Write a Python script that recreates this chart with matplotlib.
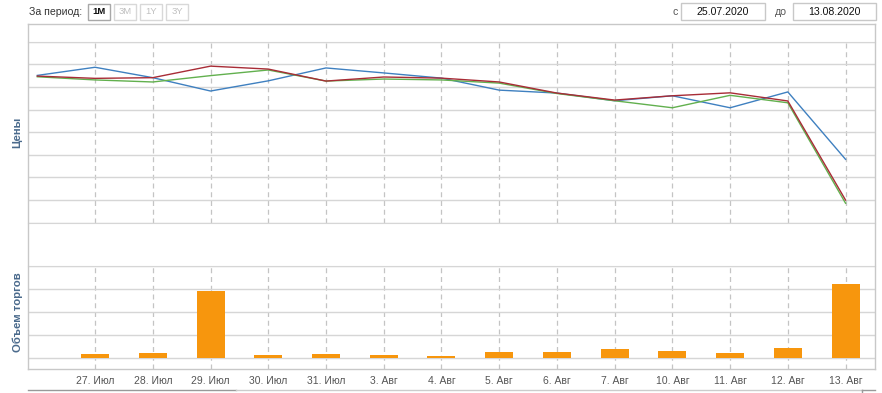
import matplotlib.pyplot as plt
from matplotlib.lines import Line2D
from matplotlib.patches import Rectangle

plt.rcParams['font.family'] = ['Liberation Sans', 'DejaVu Sans']

# trading days (first point 24 Jul has no label on the axis)
dates = ["", "27. Июл", "28. Июл", "29. Июл", "30. Июл", "31. Июл",
         "3. Авг", "4. Авг", "5. Авг", "6. Авг", "7. Авг",
         "10. Авг", "11. Авг", "12. Авг", "13. Авг"]

price_blue = [6.51, 6.87, 6.41, 5.82, 6.27, 6.84, 6.62, 6.39, 5.86, 5.73,
              5.39, 5.61, 5.08, 5.78, 2.80]
price_red = [6.48, 6.38, 6.41, 6.92, 6.79, 6.26, 6.44, 6.39, 6.22, 5.73,
             5.42, 5.61, 5.74, 5.38, 1.00]
price_green = [6.45, 6.31, 6.22, 6.50, 6.75, 6.26, 6.35, 6.31, 6.17, 5.71,
               5.39, 5.08, 5.63, 5.30, 0.86]

volume = [0.0, 0.15, 0.19, 2.93, 0.10, 0.18, 0.10, 0.06, 0.26, 0.26,
          0.38, 0.29, 0.22, 0.41, 3.23]

W, H = 882, 393
fig = plt.figure(figsize=(W / 100, H / 100), dpi=100)


def px_axes(x0, y0, x1, y1):
    return fig.add_axes([x0 / W, 1 - y1 / H, (x1 - x0) / W, (y1 - y0) / H])


grid_c = "#d6d6d6"
dash_c = "#c4c4c4"
lab_c = "#4a6a8c"
xs = list(range(len(dates)))
xlim = (-0.17, 14.51)

# price panel
ax1 = px_axes(27.5, 41.7, 875, 222.7)
ax1.plot(xs, price_blue, color="#3f80c0", lw=1.0, zorder=3)
ax1.plot(xs, price_green, color="#62b04e", lw=1.0, zorder=3)
ax1.plot(xs, price_red, color="#a82c36", lw=1.0, zorder=3)
ax1.set_xlim(*xlim)
ax1.set_ylim(0, 8)
ax1.set_yticks(range(0, 9))
ax1.set_xticks(xs[1:])
ax1.tick_params(left=False, bottom=False, labelleft=False, labelbottom=False)
ax1.grid(axis='y', color=grid_c, lw=1.0)
ax1.grid(axis='x', color=dash_c, lw=0.9, ls=(0, (4, 3)))
for s in ax1.spines.values():
    s.set_visible(False)
ax1.spines['bottom'].set_visible(True)
ax1.spines['bottom'].set_color(grid_c)
ax1.spines['top'].set_visible(True)
ax1.spines['top'].set_color(grid_c)
ax1.set_axisbelow(True)

# volume panel
ax2 = px_axes(27.5, 266, 875, 368.5)
ax2.bar(xs, volume, width=0.485, color="#f7960d", zorder=3)
ax2.set_xlim(*xlim)
ax2.set_ylim(-0.47, 4)
ax2.set_yticks(range(0, 5))
ax2.set_xticks(xs[1:])
ax2.set_xticklabels(dates[1:])
ax2.tick_params(left=False, bottom=False, labelleft=False,
                labelsize=7.5, labelcolor="#555555", pad=2)
ax2.grid(axis='y', color=grid_c, lw=1.0)
ax2.grid(axis='x', color=dash_c, lw=0.9, ls=(0, (4, 3)))
for s in ax2.spines.values():
    s.set_visible(False)
ax2.spines['top'].set_visible(True)
ax2.spines['top'].set_color(grid_c)
ax2.set_axisbelow(True)

# frame lines
frame = "#c8c8c8"
fig.add_artist(Line2D([27.5 / W, 27.5 / W], [1 - 24 / H, 1 - 369 / H], color=frame, lw=1))
fig.add_artist(Line2D([875 / W, 875 / W], [1 - 24 / H, 1 - 369 / H], color=frame, lw=1))
fig.add_artist(Line2D([27.5 / W, 875 / W], [1 - 24 / H, 1 - 24 / H], color=frame, lw=1))
fig.add_artist(Line2D([27.5 / W, 875 / W], [1 - 368.5 / H, 1 - 368.5 / H], color=frame, lw=1))
fig.add_artist(Line2D([27.5 / W, 236 / W], [1 - 390 / H, 1 - 390 / H], color="#999999", lw=1))
fig.add_artist(Line2D([236 / W, 862 / W], [1 - 390 / H, 1 - 390 / H], color="#cccccc", lw=1))
fig.add_artist(Line2D([862 / W, 875 / W], [1 - 390 / H, 1 - 390 / H], color="#999999", lw=1))
fig.add_artist(Line2D([862 / W, 862 / W], [1 - 390 / H, 0], color="#999999", lw=1))

# axis titles
fig.text(17.5 / W, 1 - 132 / H, "Цены", rotation=90, ha='center', va='center',
         fontsize=8.2, fontweight='bold', color=lab_c)
fig.text(17.5 / W, 1 - 312 / H, "Объем торгов", rotation=90, ha='center', va='center',
         fontsize=8.2, fontweight='bold', color=lab_c)

# header controls
fig.text(29 / W, 1 - 12 / H, "За период:", ha='left', va='center', fontsize=7.6, color="#333333")
buttons = ["1M", "3M", "1Y", "3Y"]
for i, b in enumerate(buttons):
    x0 = 88 + i * 26
    active = i == 0
    fig.add_artist(Rectangle((x0 / W, 1 - 20 / H), 22 / W, 16 / H,
                             transform=fig.transFigure, fill=False,
                             ec="#a8a8a8" if active else "#d8d8d8", lw=1))
    fig.text((x0 + 11) / W, 1 - 12 / H, b, ha='center', va='center', fontsize=6.8,
             color="#111111" if active else "#c0c0c0",
             fontweight='bold' if active else 'normal')

fig.text(675 / W, 1 - 12 / H, "с", ha='center', va='center', fontsize=7.6, color="#555555")
fig.add_artist(Rectangle((681 / W, 1 - 20 / H), 84 / W, 17 / H, transform=fig.transFigure,
                         fill=False, ec="#c8c8c8", lw=1))
fig.text(723 / W, 1 - 12 / H, "25.07.2020", ha='center', va='center', fontsize=7.6, color="#111111")
fig.text(781 / W, 1 - 12 / H, "до", ha='center', va='center', fontsize=7.6, color="#555555")
fig.add_artist(Rectangle((793 / W, 1 - 20 / H), 83 / W, 17 / H, transform=fig.transFigure,
                         fill=False, ec="#c8c8c8", lw=1))
fig.text(834.5 / W, 1 - 12 / H, "13.08.2020", ha='center', va='center', fontsize=7.6, color="#111111")

fig.savefig("out.png", dpi=100)
